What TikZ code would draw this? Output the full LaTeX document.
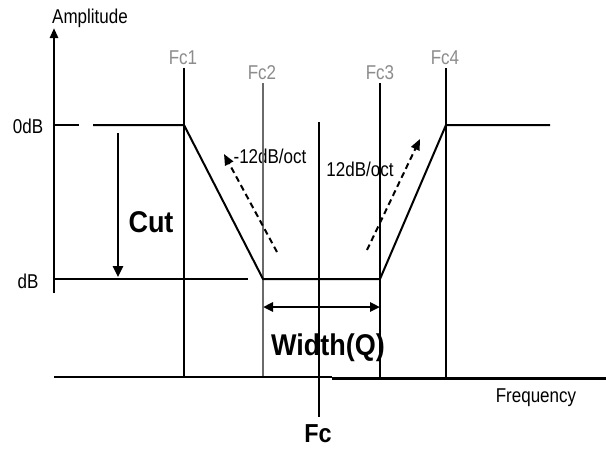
\documentclass[tikz,border=0pt]{standalone}
\usepackage{fontspec}
\usepackage{xcolor}
\usetikzlibrary{arrows.meta}
\newfontfamily\plotfont{Liberation Sans}[FakeStretch=0.85]
\newfontfamily\plotbold{Liberation Sans}[FakeStretch=0.9]
\definecolor{fclabel}{HTML}{8C8C8C}
\definecolor{fcthin}{HTML}{6A6A6A}
\begin{document}
\begin{tikzpicture}[x=1pt, y=-1pt,
  axis/.style={line width=2.6pt},
  curve/.style={line width=2pt},
  marker/.style={line width=1.5pt},
  thinmarker/.style={line width=1.2pt, draw=fcthin},
  slopearrow/.style={line width=2pt, dash pattern=on 6pt off 4pt, -{Triangle[length=11pt, width=9pt]}},
  cutarrow/.style={line width=2.6pt, -{Triangle[length=11pt, width=10pt]}},
  widtharrow/.style={line width=2.6pt, {Triangle[length=10pt, width=9pt]}-{Triangle[length=10pt, width=9pt]}},
  txt/.style={font=\plotfont\fontsize{20}{24}\selectfont, anchor=base, inner sep=0pt},
  fctxt/.style={txt, text=fclabel},
  boldtxt/.style={font=\plotbold\bfseries\fontsize{30}{36}\selectfont, anchor=base, inner sep=0pt}
]
\useasboundingbox[fill=white] (0,0) rectangle (606,448);

% corner points of the response
\coordinate (origin) at (54,293);
\coordinate (ytop) at (54,28);
\coordinate (flatA) at (54,125);
\coordinate (flatAend) at (79,125);
\coordinate (flatB) at (93,125);
\coordinate (knee1) at (184,125);
\coordinate (knee2) at (263,279);
\coordinate (knee3) at (380,279);
\coordinate (knee4) at (446,125);
\coordinate (flatC) at (550,125);
\coordinate (floorA) at (54,279);
\coordinate (floorAend) at (248,279);

% frequency axis
\coordinate (xleft) at (54,377);
\coordinate (xstep) at (332,377);
\coordinate (xstepB) at (332,378.5);
\coordinate (xright) at (606,378.5);

% labels
\node[txt] (amp) at (90,23) {Amplitude};
\node[txt] (zerodb) at (28,133) {0dB};
\node[txt] (cutdb) at (28,288) {dB};
\node[txt] (freq) at (536,402) {Frequency};
\node[fctxt] (fc1) at (183,64) {Fc1};
\node[fctxt] (fc2) at (262,79) {Fc2};
\node[fctxt] (fc3) at (380,79) {Fc3};
\node[fctxt] (fc4) at (445,64) {Fc4};
\node[txt] (downslope) at (270,163) {-12dB/oct};
\node[txt] (upslope) at (360,176) {12dB/oct};
\node[boldtxt] (cut) at (151,232) {Cut};
\node[boldtxt] (width) at (328,355) {Width(Q)};
\node[boldtxt, font=\plotbold\bfseries\fontsize{26}{30}\selectfont] (fc) at (318,442) {Fc};

% frequency markers
\coordinate (m1top) at (184,68);   \coordinate (m1bot) at (184,377);
\coordinate (m2top) at (263,83);   \coordinate (m2bot) at (263,377);
\coordinate (m3top) at (380,83);   \coordinate (m3bot) at (380,377);
\coordinate (m4top) at (446,68);   \coordinate (m4bot) at (446,377);
\coordinate (mctop) at (319,122);  \coordinate (mcbot) at (319,417);
\draw[marker] (m1top) -- (m1bot);
\draw[thinmarker] (m2top) -- (m2bot);
\draw[marker] (m3top) -- (m3bot);
\draw[marker] (m4top) -- (m4bot);
\draw[marker] (mctop) -- (mcbot);

% axes
\draw[axis, -{Triangle[length=10pt, width=8pt]}] (origin) -- (ytop);
\draw[axis] (xleft) -- (xstep);
\draw[axis] (xstepB) -- (xright);

% response
\draw[curve] (flatA) -- (flatAend);
\draw[curve] (flatB) -- (knee1) -- (knee2) -- (knee3) -- (knee4) -- (flatC);
\draw[curve] (floorA) -- (floorAend);

% annotations
\coordinate (cuttop) at (118,133);
\coordinate (cutbot) at (118,277);
\draw[cutarrow] (cuttop) -- (cutbot);
\coordinate (wleft) at (263,307);
\coordinate (wright) at (380,307);
\draw[widtharrow] (wleft) -- (wright);
\coordinate (dstart) at (277,252);
\coordinate (dend) at (224,154);
\draw[slopearrow] (dstart) -- (dend);
\coordinate (ustart) at (367,250);
\coordinate (uend) at (420,139);
\draw[slopearrow] (ustart) -- (uend);
\end{tikzpicture}
\end{document}
